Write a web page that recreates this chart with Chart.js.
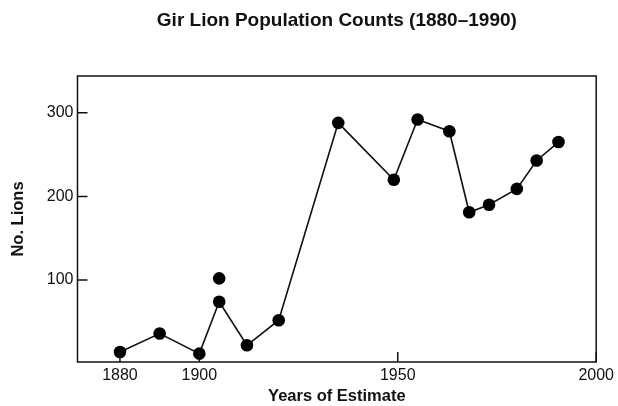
<!DOCTYPE html>
<html>
<head>
<meta charset="utf-8">
<script src="https://cdn.jsdelivr.net/npm/chart.js@4.4.1/dist/chart.umd.min.js"></script>
<style>
  html, body { margin: 0; padding: 0; background: #fff; }
  #wrap { width: 618px; height: 406px; }
</style>
</head>
<body>
<div id="wrap"><canvas id="line-chart"></canvas></div>
<script>
// population counts
var years  = [1880, 1890, 1900, 1905, 1912, 1920, 1935, 1949, 1955, 1963, 1968, 1973, 1980, 1985, 1990.5];
var lions  = [14, 36, 12, 74, 22, 52, 288, 220, 292, 278, 181, 190, 209, 243, 265];
// second (higher) estimate for 1905, not joined to the line
var extraYear  = [1905];
var extraLions = [102];

var xTicks = [1880, 1900, 1950, 2000];
var yTicks = [100, 200, 300];

var FONT = "'Liberation Sans', Arial, Helvetica, sans-serif";

function pts(xs, ys) {
  var out = [];
  for (var i = 0; i < xs.length; i++) out.push({x: xs[i], y: ys[i]});
  return out;
}

// box round the plot, inward tick marks and the title
var frame = {
  id: 'frame',
  afterDraw: function (chart) {
    var ctx = chart.ctx, a = chart.chartArea;
    var xs = chart.scales.x, ys = chart.scales.y;
    ctx.save();
    ctx.strokeStyle = '#111';
    ctx.lineWidth = 1.5;
    ctx.strokeRect(a.left, a.top, a.right - a.left, a.bottom - a.top);
    ctx.beginPath();
    xTicks.forEach(function (v) {
      var px = xs.getPixelForValue(v);
      ctx.moveTo(px, a.bottom);
      ctx.lineTo(px, a.bottom - 10);
    });
    yTicks.forEach(function (v) {
      var py = ys.getPixelForValue(v);
      ctx.moveTo(a.left, py);
      ctx.lineTo(a.left + 10, py);
    });
    ctx.stroke();
    ctx.fillStyle = '#111';
    ctx.font = 'bold 19px ' + FONT;
    ctx.textAlign = 'center';
    ctx.textBaseline = 'middle';
    ctx.fillText('Gir Lion Population Counts (1880\u20131990)', (a.left + a.right) / 2, 21);
    ctx.restore();
  }
};

var chart = new Chart(document.getElementById('line-chart'), {
  type: 'line',
  data: {
    datasets: [{
      data: pts(years, lions),
      borderColor: '#111',
      backgroundColor: '#000',
      borderWidth: 1.6,
      pointRadius: 6.3,
      pointHoverRadius: 6.3,
      pointBorderWidth: 0,
      fill: false,
      tension: 0
    }, {
      data: pts(extraYear, extraLions),
      showLine: false,
      backgroundColor: '#000',
      borderColor: '#000',
      pointRadius: 6.3,
      pointBorderWidth: 0
    }]
  },
  options: {
    responsive: true,
    maintainAspectRatio: false,
    animation: false,
    layout: { padding: { top: 76, right: 2, left: 9, bottom: 0 } },
    plugins: {
      legend: { display: false },
      tooltip: { enabled: false },
      title: { display: false }
    },
    scales: {
      x: {
        type: 'linear',
        min: 1869.3,
        max: 2000,
        afterBuildTicks: function (s) { s.ticks = xTicks.map(function (v) { return {value: v}; }); },
        grid: { display: false, drawTicks: false },
        border: { display: false },
        ticks: { color: '#111', font: { family: FONT, size: 16 }, padding: 4, maxRotation: 0,
                 callback: function (v) { return String(v); } },
        title: { display: true, text: 'Years of Estimate', color: '#111',
                 font: { family: FONT, size: 16.5, weight: 'bold' }, padding: { top: -3, bottom: 0 } }
      },
      y: {
        min: 2,
        max: 344,
        afterBuildTicks: function (s) { s.ticks = yTicks.map(function (v) { return {value: v}; }); },
        grid: { display: false, drawTicks: false },
        border: { display: false },
        ticks: { color: '#111', font: { family: FONT, size: 16 }, padding: 4,
                 callback: function (v) { return String(v); } },
        title: { display: true, text: 'No. Lions', color: '#111',
                 font: { family: FONT, size: 16.5, weight: 'bold' }, padding: { top: 0, bottom: 14 } }
      }
    }
  },
  plugins: [frame]
});
</script>
</body>
</html>
